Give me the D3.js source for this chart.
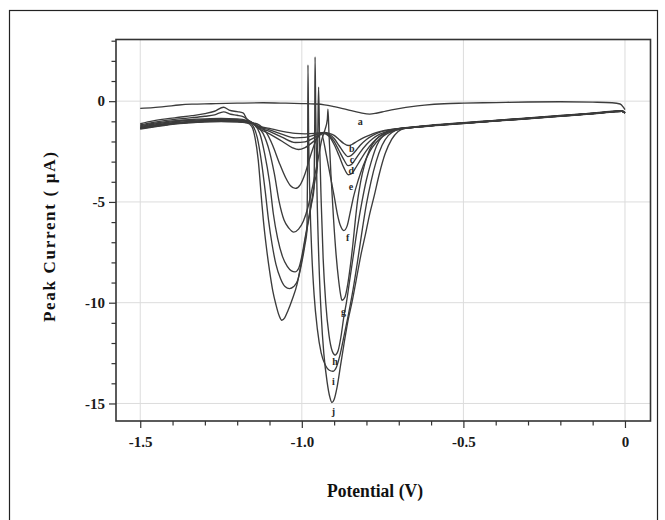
<!DOCTYPE html>
<html>
<head>
<meta charset="utf-8">
<script src="https://cdn.jsdelivr.net/npm/d3@7"></script>
<style>
  body { margin: 0; background: #fff; }
  text { font-family: "Liberation Serif", "Times New Roman", serif; font-weight: bold; }
</style>
</head>
<body>
<svg id="chart" width="665" height="520"></svg>
<script>
// Voltammograms a–j: [potential (V), current (µA)]
const curveA = [[-1.5,-0.36],[-1.46,-0.32],[-1.42,-0.26],[-1.38,-0.19],[-1.34,-0.15],[-1.28,-0.13],[-1.2,-0.1],[-1.12,-0.08],[-1.05,-0.1],[-1.0,-0.12],[-0.96,-0.14],[-0.93,-0.18],[-0.9,-0.27],[-0.86,-0.42],[-0.82,-0.57],[-0.79,-0.64],[-0.77,-0.6],[-0.74,-0.49],[-0.7,-0.37],[-0.66,-0.27],[-0.62,-0.2],[-0.56,-0.13],[-0.5,-0.1],[-0.4,-0.07],[-0.3,-0.04],[-0.2,-0.03],[-0.1,-0.05],[-0.04,-0.08],[-0.015,-0.14],[-0.005,-0.3],[0,-0.42]];
const curveB = [[-1.5,-1.12],[-1.46,-0.98],[-1.42,-0.88],[-1.38,-0.8],[-1.34,-0.72],[-1.3,-0.62],[-1.27,-0.5],[-1.242,-0.3],[-1.225,-0.44],[-1.2,-0.52],[-1.182,-0.58],[-1.17,-0.88],[-1.155,-1.08],[-1.14,-1.2],[-1.1,-1.35],[-1.06,-1.5],[-1.02,-1.6],[-0.99,-1.62],[-0.96,-1.6],[-0.93,-1.55],[-0.915,-1.6],[-0.9,-1.7],[-0.885,-1.9],[-0.87,-2.1],[-0.856,-2.2],[-0.845,-2.15],[-0.83,-2.0],[-0.81,-1.82],[-0.79,-1.68],[-0.77,-1.56],[-0.75,-1.47],[-0.73,-1.42],[-0.7,-1.36],[-0.68,-1.32],[-0.64,-1.25],[-0.6,-1.19],[-0.5,-1.07],[-0.4,-0.95],[-0.3,-0.83],[-0.2,-0.71],[-0.1,-0.59],[-0.03,-0.49],[-0.01,-0.47],[0,-0.56]];
const curveC = [[-1.5,-1.18],[-1.46,-1.05],[-1.42,-0.95],[-1.38,-0.88],[-1.34,-0.82],[-1.3,-0.75],[-1.27,-0.68],[-1.242,-0.53],[-1.22,-0.65],[-1.2,-0.7],[-1.18,-0.78],[-1.165,-0.95],[-1.15,-1.1],[-1.14,-1.22],[-1.1,-1.42],[-1.06,-1.65],[-1.02,-1.82],[-0.99,-1.8],[-0.96,-1.68],[-0.93,-1.55],[-0.915,-1.65],[-0.9,-1.85],[-0.885,-2.2],[-0.87,-2.55],[-0.858,-2.75],[-0.848,-2.7],[-0.835,-2.5],[-0.82,-2.2],[-0.8,-1.9],[-0.78,-1.7],[-0.76,-1.55],[-0.735,-1.45],[-0.705,-1.37],[-0.68,-1.33],[-0.64,-1.26],[-0.6,-1.2],[-0.5,-1.08],[-0.4,-0.96],[-0.3,-0.84],[-0.2,-0.72],[-0.1,-0.6],[-0.03,-0.5],[-0.01,-0.48],[0,-0.57]];
const curveD = [[-1.5,-1.22],[-1.45,-1.08],[-1.4,-0.98],[-1.35,-0.92],[-1.3,-0.88],[-1.25,-0.86],[-1.2,-0.88],[-1.17,-0.95],[-1.15,-1.1],[-1.14,-1.25],[-1.1,-1.5],[-1.06,-1.8],[-1.02,-2.05],[-0.99,-2.02],[-0.96,-1.8],[-0.93,-1.58],[-0.915,-1.7],[-0.9,-2.0],[-0.885,-2.45],[-0.87,-2.9],[-0.857,-3.2],[-0.847,-3.15],[-0.835,-2.9],[-0.82,-2.55],[-0.8,-2.15],[-0.78,-1.85],[-0.76,-1.65],[-0.735,-1.5],[-0.705,-1.38],[-0.68,-1.33],[-0.64,-1.27],[-0.6,-1.21],[-0.5,-1.09],[-0.4,-0.97],[-0.3,-0.85],[-0.2,-0.73],[-0.1,-0.61],[-0.03,-0.51],[-0.01,-0.49],[0,-0.58]];
const curveE = [[-1.5,-1.26],[-1.45,-1.12],[-1.4,-1.02],[-1.35,-0.96],[-1.3,-0.92],[-1.25,-0.9],[-1.2,-0.92],[-1.17,-0.98],[-1.15,-1.12],[-1.14,-1.28],[-1.1,-1.62],[-1.06,-2.0],[-1.03,-2.3],[-1.01,-2.4],[-0.99,-2.3],[-0.96,-1.95],[-0.935,-1.6],[-0.915,-1.75],[-0.9,-2.15],[-0.885,-2.7],[-0.87,-3.3],[-0.856,-3.65],[-0.846,-3.6],[-0.835,-3.35],[-0.82,-2.95],[-0.8,-2.45],[-0.78,-2.05],[-0.76,-1.75],[-0.735,-1.55],[-0.705,-1.4],[-0.68,-1.34],[-0.64,-1.28],[-0.6,-1.22],[-0.5,-1.1],[-0.4,-0.98],[-0.3,-0.86],[-0.2,-0.74],[-0.1,-0.62],[-0.03,-0.52],[-0.01,-0.5],[0,-0.59]];
const curveF = [[-1.5,-1.3],[-1.45,-1.17],[-1.4,-1.07],[-1.35,-1.0],[-1.3,-0.96],[-1.25,-0.94],[-1.2,-0.96],[-1.16,-1.04],[-1.13,-1.2],[-1.11,-1.55],[-1.09,-2.2],[-1.07,-3.05],[-1.05,-3.8],[-1.035,-4.2],[-1.02,-4.33],[-1.005,-4.15],[-0.99,-3.6],[-0.975,-2.8],[-0.96,-2.1],[-0.948,-1.7],[-0.94,-1.6],[-0.925,-2.6],[-0.912,-3.7],[-0.9,-4.7],[-0.89,-5.6],[-0.88,-6.2],[-0.87,-6.42],[-0.86,-6.2],[-0.85,-5.5],[-0.84,-4.75],[-0.825,-3.9],[-0.81,-3.2],[-0.79,-2.5],[-0.77,-2.05],[-0.745,-1.7],[-0.72,-1.5],[-0.695,-1.38],[-0.67,-1.33],[-0.64,-1.28],[-0.6,-1.22],[-0.5,-1.1],[-0.4,-0.98],[-0.3,-0.86],[-0.2,-0.74],[-0.1,-0.62],[-0.03,-0.52],[-0.01,-0.5],[0,-0.59]];
const curveG = [[-1.5,-1.32],[-1.45,-1.2],[-1.4,-1.1],[-1.35,-1.03],[-1.3,-0.98],[-1.25,-0.97],[-1.2,-1.0],[-1.16,-1.08],[-1.14,-1.2],[-1.12,-1.6],[-1.1,-2.5],[-1.085,-3.6],[-1.07,-5.0],[-1.055,-5.9],[-1.04,-6.3],[-1.025,-6.5],[-1.01,-6.35],[-0.995,-5.95],[-0.98,-5.2],[-0.965,-4.1],[-0.95,-2.9],[-0.938,-1.9],[-0.928,-1.4],[-0.921,-0.9],[-0.919,-0.4],[-0.916,-1.6],[-0.91,-3.6],[-0.902,-5.8],[-0.894,-7.6],[-0.886,-8.9],[-0.88,-9.6],[-0.876,-9.88],[-0.866,-9.7],[-0.858,-9.1],[-0.85,-8.2],[-0.842,-7.1],[-0.835,-6.0],[-0.828,-5.0],[-0.818,-4.0],[-0.805,-3.1],[-0.79,-2.4],[-0.77,-1.9],[-0.745,-1.6],[-0.72,-1.45],[-0.695,-1.36],[-0.67,-1.32],[-0.64,-1.27],[-0.6,-1.21],[-0.5,-1.09],[-0.4,-0.97],[-0.3,-0.85],[-0.2,-0.73],[-0.1,-0.61],[-0.03,-0.51],[-0.01,-0.49],[0,-0.58]];
const curveH = [[-1.5,-1.35],[-1.45,-1.22],[-1.4,-1.12],[-1.35,-1.05],[-1.3,-1.0],[-1.25,-0.98],[-1.2,-1.0],[-1.16,-1.08],[-1.145,-1.2],[-1.13,-1.6],[-1.115,-2.6],[-1.1,-4.0],[-1.088,-5.6],[-1.075,-6.8],[-1.06,-7.7],[-1.045,-8.2],[-1.032,-8.42],[-1.021,-8.47],[-1.01,-8.3],[-1.0,-7.7],[-0.99,-6.8],[-0.98,-5.9],[-0.97,-5.0],[-0.96,-4.0],[-0.952,-3.3],[-0.95,-1.0],[-0.948,0.7],[-0.945,-2.0],[-0.94,-5.0],[-0.934,-7.8],[-0.926,-10.0],[-0.916,-11.6],[-0.906,-12.4],[-0.897,-12.6],[-0.888,-12.4],[-0.879,-11.7],[-0.87,-10.7],[-0.862,-10.0],[-0.852,-8.9],[-0.84,-7.6],[-0.827,-6.2],[-0.814,-5.0],[-0.8,-3.9],[-0.785,-3.0],[-0.768,-2.2],[-0.748,-1.7],[-0.725,-1.45],[-0.7,-1.37],[-0.67,-1.32],[-0.64,-1.27],[-0.6,-1.21],[-0.5,-1.09],[-0.4,-0.97],[-0.3,-0.85],[-0.2,-0.73],[-0.1,-0.61],[-0.03,-0.51],[-0.01,-0.49],[0,-0.58]];
const curveI = [[-1.5,-1.36],[-1.45,-1.24],[-1.4,-1.13],[-1.35,-1.06],[-1.3,-1.02],[-1.25,-1.0],[-1.2,-1.02],[-1.16,-1.1],[-1.15,-1.25],[-1.138,-1.8],[-1.125,-3.0],[-1.113,-4.5],[-1.103,-5.9],[-1.092,-7.1],[-1.08,-8.1],[-1.066,-8.8],[-1.052,-9.2],[-1.038,-9.3],[-1.025,-9.2],[-1.013,-8.9],[-1.0,-8.0],[-0.99,-7.1],[-0.984,-6.4],[-0.982,-3.0],[-0.981,1.8],[-0.979,-1.5],[-0.975,-4.8],[-0.969,-7.6],[-0.962,-9.6],[-0.952,-11.3],[-0.94,-12.5],[-0.927,-13.1],[-0.915,-13.35],[-0.904,-13.4],[-0.893,-13.2],[-0.882,-12.6],[-0.87,-11.7],[-0.856,-10.6],[-0.842,-9.4],[-0.828,-8.0],[-0.815,-6.6],[-0.8,-5.1],[-0.786,-4.0],[-0.77,-3.0],[-0.752,-2.2],[-0.732,-1.7],[-0.71,-1.45],[-0.69,-1.36],[-0.66,-1.31],[-0.62,-1.25],[-0.6,-1.22],[-0.5,-1.1],[-0.4,-0.98],[-0.3,-0.86],[-0.2,-0.74],[-0.1,-0.62],[-0.03,-0.52],[-0.01,-0.5],[0,-0.59]];
const curveJ = [[-1.5,-1.38],[-1.45,-1.26],[-1.4,-1.15],[-1.35,-1.08],[-1.3,-1.03],[-1.25,-1.01],[-1.2,-1.03],[-1.17,-1.08],[-1.155,-1.25],[-1.145,-1.8],[-1.135,-2.9],[-1.124,-5.0],[-1.119,-5.9],[-1.11,-7.2],[-1.1,-8.4],[-1.09,-9.4],[-1.08,-10.1],[-1.07,-10.65],[-1.062,-10.87],[-1.053,-10.75],[-1.043,-10.4],[-1.03,-9.85],[-1.015,-9.1],[-1.0,-7.85],[-0.985,-6.45],[-0.97,-5.1],[-0.962,-4.3],[-0.96,-1.0],[-0.959,2.2],[-0.957,-0.5],[-0.953,-4.5],[-0.947,-8.0],[-0.94,-10.6],[-0.932,-12.5],[-0.922,-13.9],[-0.913,-14.7],[-0.907,-14.95],[-0.9,-14.8],[-0.891,-14.2],[-0.88,-13.1],[-0.868,-11.9],[-0.856,-10.8],[-0.845,-10.0],[-0.832,-8.9],[-0.818,-7.7],[-0.803,-6.6],[-0.79,-5.6],[-0.776,-4.7],[-0.76,-3.6],[-0.742,-2.6],[-0.722,-1.9],[-0.702,-1.5],[-0.68,-1.35],[-0.65,-1.3],[-0.62,-1.26],[-0.6,-1.23],[-0.5,-1.11],[-0.4,-0.99],[-0.3,-0.87],[-0.2,-0.75],[-0.1,-0.63],[-0.03,-0.53],[-0.01,-0.51],[0,-0.6]];

const seriesNames = ["a", "b", "c", "d", "e", "f", "g", "h", "i", "j"];
const seriesData = [curveA, curveB, curveC, curveD, curveE, curveF, curveG, curveH, curveI, curveJ];

// Curve label anchor points [potential, current]
const labelX = [-0.819, -0.845, -0.845, -0.847, -0.848, -0.858, -0.871, -0.897, -0.902, -0.902];
const labelY = [-1.03, -2.35, -2.9, -3.45, -4.25, -6.77, -10.46, -12.94, -13.93, -15.42];

// Axis ticks
const xMajorTicks = [-1.5, -1.0, -0.5, 0];
const xTickLabels = ["-1.5", "-1.0", "-0.5", "0"];
const xMinorTicks = [-1.4, -1.3, -1.2, -1.1, -0.9, -0.8, -0.7, -0.6, -0.4, -0.3, -0.2, -0.1];
const yMajorTicks = [0, -5, -10, -15];
const yTickLabels = ["0", "-5", "-10", "-15"];
const yMinorTicks = [3, 2, 1, -1, -2, -3, -4, -6, -7, -8, -9, -11, -12, -13, -14];

const svg = d3.select("#chart");
const plot = { left: 116, right: 650.5, top: 39.5, bottom: 421 };

// Outer figure border
svg.append("rect")
  .attr("x", 9.5).attr("y", 10.5).attr("width", 648).attr("height", 530)
  .attr("fill", "none").attr("stroke", "#222").attr("stroke-width", 1.2);

const x = d3.scaleLinear().domain([-1.575, 0.079]).range([plot.left, plot.right]);
const y = d3.scaleLinear().domain([-15.87, 3.06]).range([plot.bottom, plot.top]);

// Gridlines
const grid = svg.append("g").attr("stroke", "#dcdcdc").attr("stroke-width", 1);
grid.selectAll("line.vx").data(xMajorTicks).join("line")
  .attr("x1", d => x(d)).attr("x2", d => x(d))
  .attr("y1", plot.top).attr("y2", plot.bottom);
grid.selectAll("line.hy").data(yMajorTicks).join("line")
  .attr("x1", plot.left).attr("x2", plot.right)
  .attr("y1", d => y(d)).attr("y2", d => y(d));

// Axes: major ticks with labels, minor ticks without
const xAxisMajor = d3.axisBottom(x).tickValues(xMajorTicks)
  .tickFormat((d, i) => xTickLabels[i]).tickSize(7).tickPadding(8);
const xAxisMinor = d3.axisBottom(x).tickValues(xMinorTicks).tickFormat("").tickSize(4.5);
const yAxisMajor = d3.axisLeft(y).tickValues(yMajorTicks)
  .tickFormat((d, i) => yTickLabels[i]).tickSize(7).tickPadding(4);
const yAxisMinor = d3.axisLeft(y).tickValues(yMinorTicks).tickFormat("").tickSize(4.5);

function styleAxis(g) {
  g.select(".domain").remove();
  g.selectAll(".tick line").attr("stroke", "#333").attr("stroke-width", 1.2);
  g.selectAll(".tick text").attr("fill", "#1a1a1a")
    .style("font-family", '"Liberation Serif", serif').style("font-weight", "bold").style("font-size", "15px");
}
svg.append("g").attr("transform", `translate(0,${plot.bottom})`).call(xAxisMajor).call(styleAxis);
svg.append("g").attr("transform", `translate(0,${plot.bottom})`).call(xAxisMinor).call(styleAxis);
svg.append("g").attr("transform", `translate(${plot.left},0)`).call(yAxisMajor).call(styleAxis);
svg.append("g").attr("transform", `translate(${plot.left},0)`).call(yAxisMinor).call(styleAxis);

// Curves
const line = d3.line().x(d => x(d[0])).y(d => y(d[1])).curve(d3.curveMonotoneX);
svg.append("g").selectAll("path").data(seriesData).join("path")
  .attr("d", line)
  .attr("fill", "none").attr("stroke", "#3c3c3c").attr("stroke-width", 1.35)
  .attr("stroke-linejoin", "round");

// Curve letters
svg.append("g").selectAll("text").data(seriesNames).join("text")
  .attr("x", (d, i) => x(labelX[i])).attr("y", (d, i) => y(labelY[i]))
  .attr("dy", "0.32em").attr("text-anchor", "middle")
  .attr("fill", "#2a2a2a").style("font-size", "10px")
  .text(d => d);

// Plot frame
svg.append("rect")
  .attr("x", plot.left).attr("y", plot.top)
  .attr("width", plot.right - plot.left).attr("height", plot.bottom - plot.top)
  .attr("fill", "none").attr("stroke", "#333").attr("stroke-width", 1.6);

// Axis titles
svg.append("text")
  .attr("x", 375).attr("y", 497).attr("text-anchor", "middle")
  .attr("fill", "#111").style("font-size", "18px")
  .attr("textLength", 96).attr("lengthAdjust", "spacingAndGlyphs")
  .text("Potential (V)");
svg.append("text")
  .attr("transform", "translate(55,237) rotate(-90)")
  .attr("text-anchor", "middle")
  .attr("fill", "#111").style("font-size", "17px")
  .attr("textLength", 170).attr("lengthAdjust", "spacing")
  .text("Peak  Current ( µA)");
</script>
</body>
</html>
